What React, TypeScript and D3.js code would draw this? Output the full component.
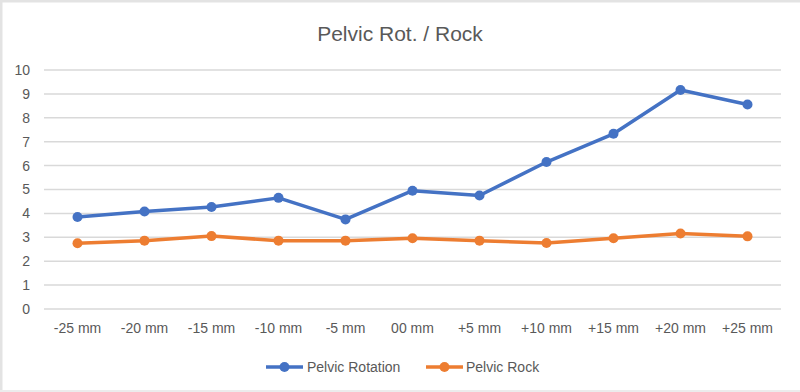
import { useEffect, useRef } from 'react';
import * as d3 from 'd3';

const categories = ['-25 mm', '-20 mm', '-15 mm', '-10 mm', '-5 mm', '00 mm', '+5 mm', '+10 mm', '+15 mm', '+20 mm', '+25 mm'];
const pelvicRotation = [3.85, 4.08, 4.27, 4.65, 3.75, 4.95, 4.75, 6.15, 7.33, 9.16, 8.56];
const pelvicRock = [2.75, 2.86, 3.05, 2.86, 2.86, 2.96, 2.86, 2.76, 2.96, 3.16, 3.04];
const yTicks = [0, 1, 2, 3, 4, 5, 6, 7, 8, 9, 10];

const FONT = '"Liberation Sans", Arial, sans-serif';
const TEXT = '#595959';
const GRID = '#d9d9d9';

export default function App() {
  const svgRef = useRef<SVGSVGElement>(null);

  useEffect(() => {
    if (!svgRef.current) return;
    const svg = d3.select(svgRef.current);
    svg.selectAll('*').remove();

    const width = 800;
    const height = 392;
    const margin = { top: 70, right: 19, bottom: 83, left: 44 };

    svg.attr('width', width).attr('height', height);

    svg.append('rect').attr('width', width).attr('height', height).attr('fill', '#fff');
    // frame edges visible in the screenshot
    svg.append('rect').attr('x', 0).attr('y', 0).attr('width', width).attr('height', 2.5).attr('fill', '#e3e3e3');
    svg.append('rect').attr('x', 0).attr('y', 0).attr('width', 2.5).attr('height', height).attr('fill', '#e3e3e3');
    svg.append('rect').attr('x', 0).attr('y', height - 2).attr('width', width).attr('height', 2).attr('fill', '#ececec');

    const x = d3
      .scaleBand()
      .domain(categories)
      .range([margin.left, width - margin.right]);

    const y = d3
      .scaleLinear()
      .domain([0, 10])
      .range([height - margin.bottom, margin.top]);

    const cx = (c: string) => (x(c) || 0) + x.bandwidth() / 2;

    // title
    svg
      .append('text')
      .attr('x', 400)
      .attr('y', 41)
      .attr('text-anchor', 'middle')
      .style('font-family', FONT)
      .style('font-size', '21px')
      .style('fill', TEXT)
      .text('Pelvic Rot. / Rock');

    // gridlines
    svg
      .append('g')
      .selectAll('line')
      .data(yTicks)
      .enter()
      .append('line')
      .attr('x1', margin.left)
      .attr('x2', width - margin.right)
      .attr('y1', (d) => y(d))
      .attr('y2', (d) => y(d))
      .attr('stroke', GRID)
      .attr('stroke-width', 1.5);

    // y tick labels
    svg
      .append('g')
      .selectAll('text')
      .data(yTicks)
      .enter()
      .append('text')
      .attr('x', 30)
      .attr('y', (d) => y(d))
      .attr('dy', '0.35em')
      .attr('text-anchor', 'end')
      .style('font-family', FONT)
      .style('font-size', '14px')
      .style('fill', TEXT)
      .text((d) => d);

    // x tick labels
    svg
      .append('g')
      .selectAll('text')
      .data(categories)
      .enter()
      .append('text')
      .attr('x', (d) => cx(d))
      .attr('y', 333)
      .attr('text-anchor', 'middle')
      .style('font-family', FONT)
      .style('font-size', '14px')
      .style('fill', TEXT)
      .text((d) => d);

    const series = [
      { name: 'Pelvic Rotation', values: pelvicRotation, color: '#4472C4' },
      { name: 'Pelvic Rock', values: pelvicRock, color: '#ED7D31' },
    ];

    const line = d3
      .line<number>()
      .x((d, i) => cx(categories[i]))
      .y((d) => y(d));

    series.forEach((s) => {
      svg
        .append('path')
        .datum(s.values)
        .attr('fill', 'none')
        .attr('stroke', s.color)
        .attr('stroke-width', 3.5)
        .attr('stroke-linejoin', 'round')
        .attr('d', line);

      svg
        .append('g')
        .selectAll('circle')
        .data(s.values)
        .enter()
        .append('circle')
        .attr('cx', (d, i) => cx(categories[i]))
        .attr('cy', (d) => y(d))
        .attr('r', 5)
        .attr('fill', s.color);
    });

    // legend
    const legendItems = [
      { x: 266, textX: 307 },
      { x: 426, textX: 466 },
    ];
    const ly = 367;
    series.forEach((s, i) => {
      const g = svg.append('g');
      const lx = legendItems[i].x;
      g.append('line')
        .attr('x1', lx)
        .attr('x2', lx + 37)
        .attr('y1', ly)
        .attr('y2', ly)
        .attr('stroke', s.color)
        .attr('stroke-width', 3.5);
      g.append('circle').attr('cx', lx + 18.5).attr('cy', ly).attr('r', 5).attr('fill', s.color);
      g.append('text')
        .attr('x', legendItems[i].textX)
        .attr('y', ly)
        .attr('dy', '0.35em')
        .style('font-family', FONT)
        .style('font-size', '14px')
        .style('fill', TEXT)
        .text(s.name);
    });
  }, []);

  return <svg ref={svgRef} style={{ position: 'absolute', left: 0, top: 0, display: 'block' }} />;
}
